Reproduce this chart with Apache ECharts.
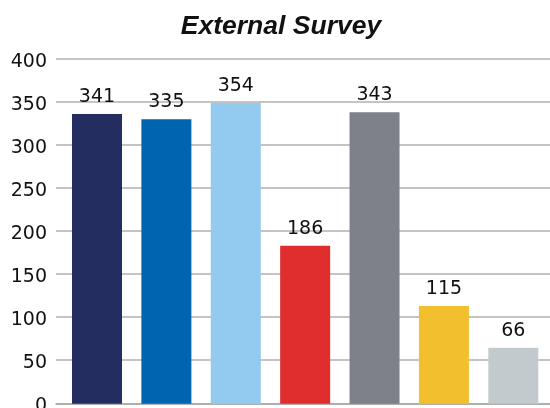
<!DOCTYPE html>
<html><head><meta charset="utf-8">
<script src="https://cdn.jsdelivr.net/npm/echarts@6/dist/echarts.min.js"></script>
<style>html,body{margin:0;padding:0;background:#fff}#c{width:550px;height:408px}</style>
</head><body><div id="c"></div>
<script>
var categories = ['A','B','C','D','E','F','G'];
var values = [341, 335, 354, 186, 343, 115, 66];
var colors = ['#232D5F','#0064B0','#93CAEF','#E02E2E','#7E8189','#F2BF2E','#C3CACD'];
var yTicks = {min:0, max:400, interval:50};
var FONT = 'DejaVu Sans';
var chart = echarts.init(document.getElementById('c'));
chart.setOption({
  animation:false,
  title:{text:'External Survey', left:276, top:8, textAlign:'center',
    textStyle:{fontFamily:'Liberation Sans', fontSize:26.5, fontWeight:'bold', fontStyle:'italic', color:'#111'}},
  grid:[
    {left:56, right:0, top:58.7, height:344.6, containLabel:false, outerBoundsMode:'none'},
    {left:62.3, right:2, top:63.9, height:339.9, containLabel:false, outerBoundsMode:'none'}
  ],
  xAxis:[
    {type:'category', gridIndex:0, data:categories, axisLine:{show:true, lineStyle:{color:'#A8A8A8', width:1.5}},
     axisTick:{show:false}, axisLabel:{show:false}},
    {type:'category', gridIndex:1, data:categories, show:false}
  ],
  yAxis:[
    {type:'value', gridIndex:0, min:yTicks.min, max:yTicks.max, interval:yTicks.interval,
     axisLine:{show:false}, axisTick:{show:false},
     axisLabel:{fontFamily:FONT, fontSize:19, color:'#111', margin:9, verticalAlign:'top', lineHeight:6},
     splitLine:{lineStyle:{color:'#B0B0B0', width:1.5}}},
    {type:'value', gridIndex:1, min:yTicks.min, max:yTicks.max, interval:yTicks.interval, show:false, splitLine:{show:false}}
  ],
  series:[{
    type:'bar', xAxisIndex:1, yAxisIndex:1, barWidth:50,
    data: values.map(function(v,i){return {value:v, itemStyle:{color:colors[i]}};}),
    label:{show:true, position:'top', distance:7.5, fontFamily:FONT, fontSize:19, color:'#111'}
  }]
});
</script></body></html>
